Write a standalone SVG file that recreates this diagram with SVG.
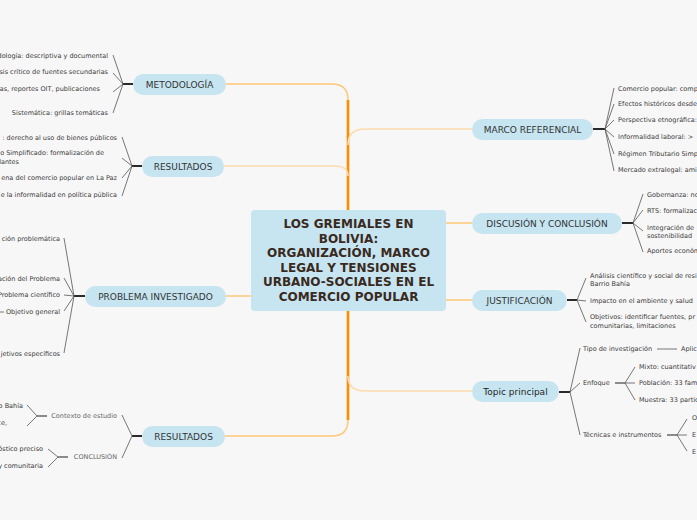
<svg xmlns="http://www.w3.org/2000/svg" width="697" height="520" viewBox="0 0 697 520">
<style>
.bg{fill:#f7f7f7}
.pill{fill:#c6e5f0}
.lbl{font-family:"DejaVu Sans",Verdana,sans-serif;font-size:9px;fill:#333;text-anchor:middle;dominant-baseline:central}
.title{font-family:"DejaVu Sans",Verdana,sans-serif;font-size:12px;font-weight:bold;fill:#3a2a1e;text-anchor:middle}
.t{font-family:"DejaVu Sans",Verdana,sans-serif;font-size:6.5px;fill:#3c3c3c;dominant-baseline:central}
.e{text-anchor:end}
.g{fill:#666}
.spine{fill:none;stroke:#ff8c00;stroke-width:2.6}
.br{fill:none;stroke:#ffc878;stroke-width:1.5}
.brp{fill:none;stroke:#fddcad;stroke-width:1.5}
.stem{stroke:#2a2a2a;stroke-width:2}
.fan{fill:none;stroke:#555;stroke-width:0.8}
</style>
<rect class="bg" x="0" y="0" width="697" height="520"/>
<g id="connectors">
  <path class="spine" d="M348,210 V100"/>
  <path class="spine" d="M348,311 V420"/>
  <path class="br" d="M348,100 Q348,84 332,84 H226"/>
  <path class="brp" d="M348,176 Q348,166 334,166 H224"/>
  <path class="brp" d="M348,145 Q348,129 365,129 H472"/>
  <path class="brp" d="M348,376 Q348,391 365,391 H472"/>
  <path class="br" d="M348,420 Q348,436 332,436 H225"/>
  <path class="br" d="M251,296 H226"/>
  <path class="br" d="M446,223 H472"/>
  <path class="br" d="M446,300 H472"/>
  <!-- METODOLOGIA fan -->
  <line class="stem" x1="133" y1="84" x2="123" y2="84"/>
  <path class="fan" d="M123,84 L113,55 M123,84 L113,73 M123,84 L113,92 M123,84 L113,113"/>
  <!-- RESULTADOS top fan -->
  <line class="stem" x1="142" y1="166" x2="132" y2="166"/>
  <path class="fan" d="M132,166 L122,137 M132,166 L122,158 M132,166 L122,178 M132,166 L122,196"/>
  <!-- PROBLEMA fan -->
  <line class="stem" x1="85" y1="296" x2="74" y2="296"/>
  <path class="fan" d="M74,296 L64,238 M74,296 L64,278 M74,296 L64,295 M74,296 L64,311 M74,296 L64,353"/>
  <line class="fan" x1="-6" y1="312" x2="4" y2="312"/>
  <!-- RESULTADOS bottom fan -->
  <line class="stem" x1="142" y1="436" x2="132" y2="436"/>
  <path class="fan" d="M132,436 L122,415 M132,436 L122,458"/>
  <line class="stem" x1="47" y1="416" x2="37" y2="416" style="stroke-width:1.2;stroke:#444"/>
  <path class="fan" d="M37,416 L27,405 M37,416 L27,426"/>
  <line class="stem" x1="68" y1="457" x2="58" y2="457" style="stroke-width:1.2;stroke:#444"/>
  <path class="fan" d="M58,457 L48,449 M58,457 L48,467"/>
  <!-- MARCO fan -->
  <line class="stem" x1="593" y1="129" x2="605" y2="129"/>
  <path class="fan" d="M605,129 L614,88 M605,129 L614,104 M605,129 L614,120 M605,129 L614,137 M605,129 L614,154 M605,129 L614,171"/>
  <!-- DISCUSION fan -->
  <line class="stem" x1="622" y1="223" x2="633" y2="223"/>
  <path class="fan" d="M633,223 L643,194 M633,223 L643,210 M633,223 L643,231 M633,223 L643,252"/>
  <!-- JUSTIFICACION fan -->
  <line class="stem" x1="567" y1="300" x2="577" y2="300"/>
  <path class="fan" d="M577,300 L586,278 M577,300 L586,301 M577,300 L586,322"/>
  <!-- Topic principal fan -->
  <line class="stem" x1="559" y1="392" x2="570" y2="392"/>
  <path class="fan" d="M570,392 L580,348 M570,392 L580,383 M570,392 L580,435"/>
  <line class="fan" x1="657" y1="349" x2="677" y2="349"/>
  <line class="stem" x1="615" y1="383" x2="625" y2="383" style="stroke-width:1.2;stroke:#444"/>
  <path class="fan" d="M625,383 L635,367 M625,383 L635,383 M625,383 L635,400"/>
  <line class="stem" x1="667" y1="435" x2="677" y2="435" style="stroke-width:1.2;stroke:#444"/>
  <path class="fan" d="M677,435 L687,419 M677,435 L687,435 M677,435 L687,451"/>
</g>
<g id="central">
  <rect class="pill" x="251" y="210" width="195" height="101" rx="4"/>
  <text class="title" x="348.5" y="228">LOS GREMIALES EN</text>
  <text class="title" x="348.5" y="242.5">BOLIVIA:</text>
  <text class="title" x="348.5" y="257">ORGANIZACIÓN, MARCO</text>
  <text class="title" x="348.5" y="271.5">LEGAL Y TENSIONES</text>
  <text class="title" x="348.5" y="286">URBANO-SOCIALES EN EL</text>
  <text class="title" x="348.5" y="300.5">COMERCIO POPULAR</text>
</g>
<g id="metodologia">
  <rect class="pill" x="133" y="74" width="93" height="21" rx="10.5"/>
  <text class="lbl" x="179.5" y="84.5">METODOLOGÍA</text>
  <text class="t e" x="108" y="56">dología: descriptiva y documental</text>
  <text class="t e" x="108" y="72">sis crítico de fuentes secundarias</text>
  <text class="t e" x="100" y="89">as, reportes OIT, publicaciones</text>
  <text class="t e" x="108" y="113">Sistemática: grillas temáticas</text>
</g>
<g id="resultados1">
  <rect class="pill" x="142" y="156" width="82" height="21" rx="10.5"/>
  <text class="lbl" x="183" y="166.5">RESULTADOS</text>
  <text class="t e" x="117" y="138">: derecho al uso de bienes públicos</text>
  <text class="t e" x="104" y="153">o Simplificado: formalización de</text>
  <text class="t e" x="19" y="162">lantes</text>
  <text class="t e" x="117" y="178">ena del comercio popular en La Paz</text>
  <text class="t e" x="117" y="195">e la informalidad en política pública</text>
</g>
<g id="problema">
  <rect class="pill" x="85" y="286" width="141" height="21" rx="10.5"/>
  <text class="lbl" x="155.5" y="296.5">PROBLEMA INVESTIGADO</text>
  <text class="t e" x="60" y="239">ción problemática</text>
  <text class="t e" x="60" y="279">ación del Problema</text>
  <text class="t e" x="60" y="295">Problema científico</text>
  <text class="t e" x="60" y="312">Objetivo general</text>
  <text class="t e" x="60" y="354">jetivos específicos</text>
</g>
<g id="resultados2">
  <rect class="pill" x="142" y="426" width="83" height="21" rx="10.5"/>
  <text class="lbl" x="183.5" y="436.5">RESULTADOS</text>
  <text class="t e g" x="117" y="416">Contexto de estudio</text>
  <text class="t e g" x="117" y="457">CONCLUSIÓN</text>
  <text class="t e" x="23" y="406">o Bahía</text>
  <text class="t e" x="7" y="423">ce,</text>
  <text class="t e" x="43" y="449">óstico preciso</text>
  <text class="t e" x="43" y="466">y comunitaria</text>
</g>
<g id="marco">
  <rect class="pill" x="472" y="119" width="121" height="21" rx="10.5"/>
  <text class="lbl" x="532.5" y="129.5">MARCO REFERENCIAL</text>
  <text class="t" x="618" y="89">Comercio popular: comp</text>
  <text class="t" x="618" y="104">Efectos históricos desde</text>
  <text class="t" x="618" y="120">Perspectiva etnográfica:</text>
  <text class="t" x="618" y="137">Informalidad laboral: &gt;</text>
  <text class="t" x="618" y="154">Régimen Tributario Simp</text>
  <text class="t" x="618" y="170">Mercado extralegal: ami</text>
</g>
<g id="discusion">
  <rect class="pill" x="472" y="213" width="150" height="21" rx="10.5"/>
  <text class="lbl" x="547" y="223.5">DISCUSIÓN Y CONCLUSIÓN</text>
  <text class="t" x="647" y="195">Gobernanza: no</text>
  <text class="t" x="647" y="211">RTS: formalizac</text>
  <text class="t" x="647" y="228">Integración de</text>
  <text class="t" x="647" y="236">sostenibilidad</text>
  <text class="t" x="647" y="251">Aportes económ</text>
</g>
<g id="justificacion">
  <rect class="pill" x="472" y="290" width="95" height="21" rx="10.5"/>
  <text class="lbl" x="519.5" y="300.5">JUSTIFICACIÓN</text>
  <text class="t" x="590" y="276">Análisis científico y social de resi</text>
  <text class="t" x="590" y="284">Barrio Bahía</text>
  <text class="t" x="590" y="301">Impacto en el ambiente y salud</text>
  <text class="t" x="590" y="317">Objetivos: identificar fuentes, pr</text>
  <text class="t" x="590" y="326">comunitarias, limitaciones</text>
</g>
<g id="topic">
  <rect class="pill" x="472" y="381" width="87" height="21" rx="10.5"/>
  <text class="lbl" x="515.5" y="391.5" style="fill:#1e1e1e">Topic principal</text>
  <text class="t" x="583" y="349">Tipo de investigación</text>
  <text class="t" x="681" y="349">Aplic</text>
  <text class="t" x="583" y="383">Enfoque</text>
  <text class="t" x="639" y="367">Mixto: cuantitativ</text>
  <text class="t" x="639" y="383">Población: 33 fam</text>
  <text class="t" x="639" y="400">Muestra: 33 partic</text>
  <text class="t" x="583" y="435">Técnicas e instrumentos</text>
  <text class="t" x="692" y="418">O</text>
  <text class="t" x="692" y="435">E</text>
  <text class="t" x="692" y="452">E</text>
</g>
</svg>
